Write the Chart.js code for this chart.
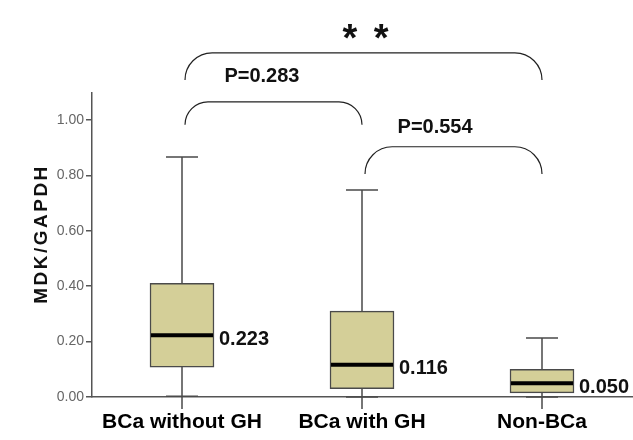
<!DOCTYPE html>
<html>
<head>
<meta charset="utf-8">
<script src="https://cdn.jsdelivr.net/npm/chart.js@4.4.0/dist/chart.umd.min.js"></script>
<style>
  html, body { margin: 0; padding: 0; background: #fff; }
  #wrap { width: 633px; height: 440px; }
</style>
</head>
<body>
<div id="wrap"><canvas id="box-chart"></canvas></div>
<script>
// box plot values
const groups = ['BCa without GH', 'BCa with GH', 'Non-BCa'];
const whiskerLow = [0.003, 0.0, 0.0];
const q1 = [0.108, 0.030, 0.015];
const median = [0.223, 0.116, 0.050];
const q3 = [0.410, 0.310, 0.100];
const whiskerHigh = [0.866, 0.747, 0.213];
const medianLabels = ['0.223', '0.116', '0.050'];
const yTicks = [0, 0.2, 0.4, 0.6, 0.8, 1.0];

// comparison brackets (category index from/to, heights in axis units)
const bracketFrom = [0, 1, 0];
const bracketTo = [1, 2, 2];
const bracketTop = [1.065, 0.903, 1.242];
const bracketFoot = [0.982, 0.805, 1.144];
const pLabels = ['P=0.283', 'P=0.554', '* *'];
const pLabelX = [0.444, 1.406, 1.028];
const pLabelY = [1.155, 0.971, 1.328];

const FONT = 'Arial, "Liberation Sans", sans-serif';

const boxExtras = {
  id: 'boxExtras',
  afterDatasetsDraw(chart) {
    const ctx = chart.ctx;
    const x = chart.scales.x;
    const y = chart.scales.y;
    const meta = chart.getDatasetMeta(0);
    const y0 = y.getPixelForValue(0);
    ctx.save();

    // whiskers, caps and medians
    groups.forEach((g, i) => {
      const bar = meta.data[i];
      const cx = x.getPixelForValue(i);
      const half = bar.width / 2;
      ctx.strokeStyle = '#4a4a4a';
      ctx.lineWidth = 1.5;
      ctx.beginPath();
      ctx.moveTo(cx, y.getPixelForValue(q3[i]));
      ctx.lineTo(cx, y.getPixelForValue(whiskerHigh[i]));
      ctx.moveTo(cx, y.getPixelForValue(q1[i]));
      ctx.lineTo(cx, y.getPixelForValue(whiskerLow[i]));
      ctx.moveTo(cx - half / 2, y.getPixelForValue(whiskerHigh[i]));
      ctx.lineTo(cx + half / 2, y.getPixelForValue(whiskerHigh[i]));
      ctx.moveTo(cx - half / 2, y.getPixelForValue(whiskerLow[i]));
      ctx.lineTo(cx + half / 2, y.getPixelForValue(whiskerLow[i]));
      // category tick under the axis
      ctx.moveTo(cx, y0);
      ctx.lineTo(cx, y0 + 12);
      ctx.stroke();

      const my = y.getPixelForValue(median[i]);
      ctx.strokeStyle = '#000';
      ctx.lineWidth = 4;
      ctx.beginPath();
      ctx.moveTo(cx - half + 1, my);
      ctx.lineTo(cx + half - 1, my);
      ctx.stroke();

      ctx.fillStyle = '#111';
      ctx.font = 'bold 20px ' + FONT;
      ctx.textAlign = 'left';
      ctx.textBaseline = 'middle';
      ctx.fillText(medianLabels[i], cx + half + 5, my + 4);
    });

    // brackets
    ctx.strokeStyle = '#222';
    ctx.lineWidth = 1.2;
    bracketFrom.forEach((from, i) => {
      const x1 = x.getPixelForValue(from) + 3;
      const x2 = x.getPixelForValue(bracketTo[i]);
      const yt = y.getPixelForValue(bracketTop[i]);
      const yf = y.getPixelForValue(bracketFoot[i]);
      const r = yf - yt;
      ctx.beginPath();
      ctx.moveTo(x1, yf);
      ctx.arcTo(x1, yt, x1 + r, yt, r);
      ctx.lineTo(x2 - r, yt);
      ctx.arcTo(x2, yt, x2, yf, r);
      ctx.lineTo(x2, yf);
      ctx.stroke();
    });

    // p-value labels
    ctx.fillStyle = '#111';
    ctx.textAlign = 'center';
    ctx.textBaseline = 'middle';
    pLabels.forEach((t, i) => {
      const stars = !t.startsWith('P');
      ctx.font = (stars ? 'bold 38px ' : 'bold 20px ') + FONT;
      ctx.letterSpacing = stars ? '3px' : '0px';
      ctx.fillText(t, x.getPixelForValue(pLabelX[i]), y.getPixelForValue(pLabelY[i]) + (stars ? 12 : 0));
    });

    // y axis title with spaced letters
    ctx.translate(42, 234);
    ctx.rotate(-Math.PI / 2);
    ctx.font = 'bold 19px ' + FONT;
    ctx.letterSpacing = '2.5px';
    ctx.fillStyle = '#111';
    ctx.fillText('MDK/GAPDH', 0, 0);
    ctx.restore();
  }
};

new Chart(document.getElementById('box-chart').getContext('2d'), {
  type: 'bar',
  data: {
    labels: groups,
    datasets: [{
      data: groups.map((g, i) => [q1[i], q3[i]]),
      backgroundColor: '#d4cf98',
      borderColor: '#4a4a4a',
      borderWidth: 1.5,
      borderSkipped: false,
      barThickness: 64
    }]
  },
  options: {
    responsive: true,
    maintainAspectRatio: false,
    animation: false,
    layout: { padding: { top: 93, right: 1, left: 0, bottom: 0 } },
    plugins: { legend: { display: false }, tooltip: { enabled: false } },
    scales: {
      x: {
        grid: { display: false },
        border: { color: '#555', width: 1.5 },
        ticks: { color: '#000', font: { family: FONT, size: 21, weight: 'bold' }, padding: 5, maxRotation: 0, autoSkip: false },
        afterFit(scale) { scale.height = 43; }
      },
      y: {
        min: 0,
        max: 1.097,
        afterBuildTicks(scale) { scale.ticks = yTicks.map(v => ({ value: v })); },
        grid: { drawOnChartArea: false, tickLength: 6, color: '#555', lineWidth: 1.5 },
        border: { color: '#555', width: 1.5 },
        ticks: { color: '#666', font: { family: FONT, size: 14 }, padding: 2, callback: v => v.toFixed(2) },
        afterFit(scale) { scale.width = 92; }
      }
    }
  },
  plugins: [boxExtras]
});
</script>
</body>
</html>
